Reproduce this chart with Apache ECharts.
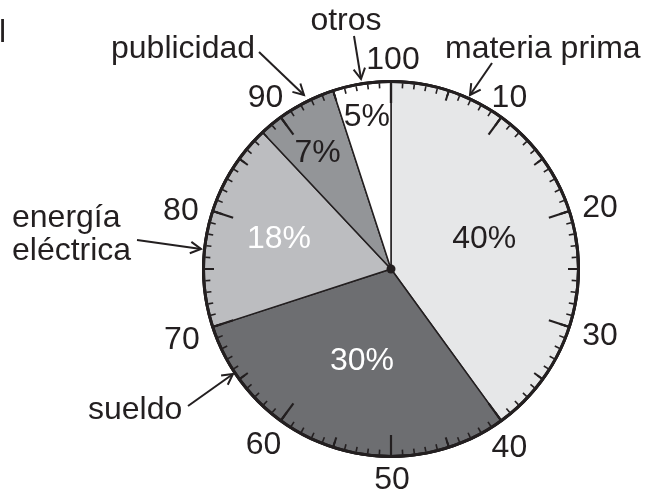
<!DOCTYPE html>
<html>
<head>
<meta charset="utf-8">
<script src="https://cdn.jsdelivr.net/npm/echarts@6/dist/echarts.min.js"></script>
<style>
html,body{margin:0;padding:0;background:#fff;}
#chart{width:665px;height:494px;}
</style>
</head>
<body>
<div id="chart"></div>
<script>
// 数据
const categories=['materia prima','sueldo','energía eléctrica','publicidad','otros'];
const percents=[40,30,18,7,5];
const dialMin=0, dialMax=100, dialStep=10;

// 样式
const ink='#231f20';
const font='"Liberation Sans", Arial, Helvetica, sans-serif';
const fs=32;
const sliceColors=['#e6e7e8','#6d6e71','#bcbdc0','#939598','#ffffff'];
const labelColors=[ink,'#ffffff','#ffffff',ink,ink];
const labelShift=[[1,0],[1,0],[-18,-6],[-24,-32],[-9,-56]];
// 刻度标签padding [上,右,下,左] (10..100), gauge标签对齐是自动的
const tickPad=[[13,9,0,0],[30,8,0,0],[0,8,18,0],[0,9,5,0],[0,0,20,2],
               [0,0,8,0],[0,0,10,8],[36,0,0,7],[13,0,0,2],[22,0,0,4]];
const cx=391, cy=269, R=189;

// 注释文字和箭头
const notes=[
    {text:'otros',x:346,y:21,align:'center',tail:[354,36],tip:[361,79]},
    {text:'publicidad',x:111,y:49,align:'left',tail:[259,52],tip:[304,95]},
    {text:'materia prima',x:445,y:49,align:'left',tail:[492,63],tip:[470,95]},
    {text:'energía',x:12,y:218,align:'left'},
    {text:'eléctrica',x:12,y:251,align:'left',tail:[137,240],tip:[201,249]},
    {text:'sueldo',x:88,y:410,align:'left',tail:[188,406],tip:[233,374]},
    {text:'l',x:-1,y:33,align:'left'}
];

function arrowHead(tail,tip,len,ang){
    const a=Math.atan2(tip[1]-tail[1],tip[0]-tail[0]);
    return [
        [tip[0]-len*Math.cos(a-ang),tip[1]-len*Math.sin(a-ang)],
        tip,
        [tip[0]-len*Math.cos(a+ang),tip[1]-len*Math.sin(a+ang)]
    ];
}

const graphics=[];
notes.forEach(n=>{
    graphics.push({
        type:'text',x:n.x,y:n.y,z:100,silent:true,
        style:{text:n.text,fill:ink,font:fs+'px '+font,align:n.align,verticalAlign:'middle'}
    });
    if(n.tail){
        graphics.push({
            type:'line',z:100,silent:true,
            shape:{x1:n.tail[0],y1:n.tail[1],x2:n.tip[0],y2:n.tip[1]},
            style:{stroke:ink,lineWidth:2}
        });
        graphics.push({
            type:'polyline',z:100,silent:true,
            shape:{points:arrowHead(n.tail,n.tip,12,0.5)},
            style:{stroke:ink,lineWidth:2,fill:null}
        });
    }
});

const tickRich={};
tickPad.forEach((p,i)=>{
    tickRich['t'+i]={fontSize:fs,fontFamily:font,color:ink,padding:p};
});

function dial(extra){
    return Object.assign({
        type:'gauge',
        z:10,
        center:[cx,cy],
        radius:R,
        startAngle:90,
        endAngle:-270,
        min:dialMin,
        max:dialMax,
        silent:true,
        axisLine:{show:true,lineStyle:{width:3,color:[[1,ink]]}},
        pointer:{show:false},
        progress:{show:false},
        title:{show:false},
        detail:{show:false},
        data:[{value:0}]
    },extra);
}

const chart=echarts.init(document.getElementById('chart'));
const option={
    animation:false,
    backgroundColor:'#ffffff',
    graphic:graphics,
    series:[
        {
            type:'pie',
            z:1,
            center:[cx,cy],
            radius:R-1,
            startAngle:90,
            clockwise:true,
            silent:true,
            itemStyle:{borderColor:ink,borderWidth:1.5},
            label:{show:true,position:'inside',formatter:'{c}%',fontSize:fs,fontFamily:font},
            labelLine:{show:false},
            labelLayout:p=>({dx:labelShift[p.dataIndex][0],dy:labelShift[p.dataIndex][1]}),
            emphasis:{disabled:true},
            data:categories.map((name,i)=>({
                name:name,
                value:percents[i],
                itemStyle:{color:sliceColors[i]},
                label:{color:labelColors[i]}
            }))
        },
        // 每1和每5的刻度
        dial({
            splitNumber:(dialMax-dialMin)/5,
            splitLine:{show:true,distance:0,length:9,lineStyle:{width:2,color:ink}},
            axisTick:{show:true,distance:0,splitNumber:5,length:5,lineStyle:{width:1.6,color:ink}},
            axisLabel:{show:false}
        }),
        // 每10的刻度和标签
        dial({
            splitNumber:(dialMax-dialMin)/dialStep,
            splitLine:{show:true,distance:0,length:20,lineStyle:{width:2.2,color:ink}},
            axisTick:{show:false},
            axisLabel:{
                show:true,distance:-78,fontSize:fs,fontFamily:font,color:ink,
                rich:tickRich,
                formatter:v=>{
                    if(v===dialMin) return '';
                    const i=Math.round((v-dialMin)/dialStep)-1;
                    return '{t'+i+'|'+v+'}';
                }
            },
            anchor:{show:true,showAbove:true,size:9,itemStyle:{color:ink}}
        })
    ]
};
chart.setOption(option);
</script>
</body>
</html>
